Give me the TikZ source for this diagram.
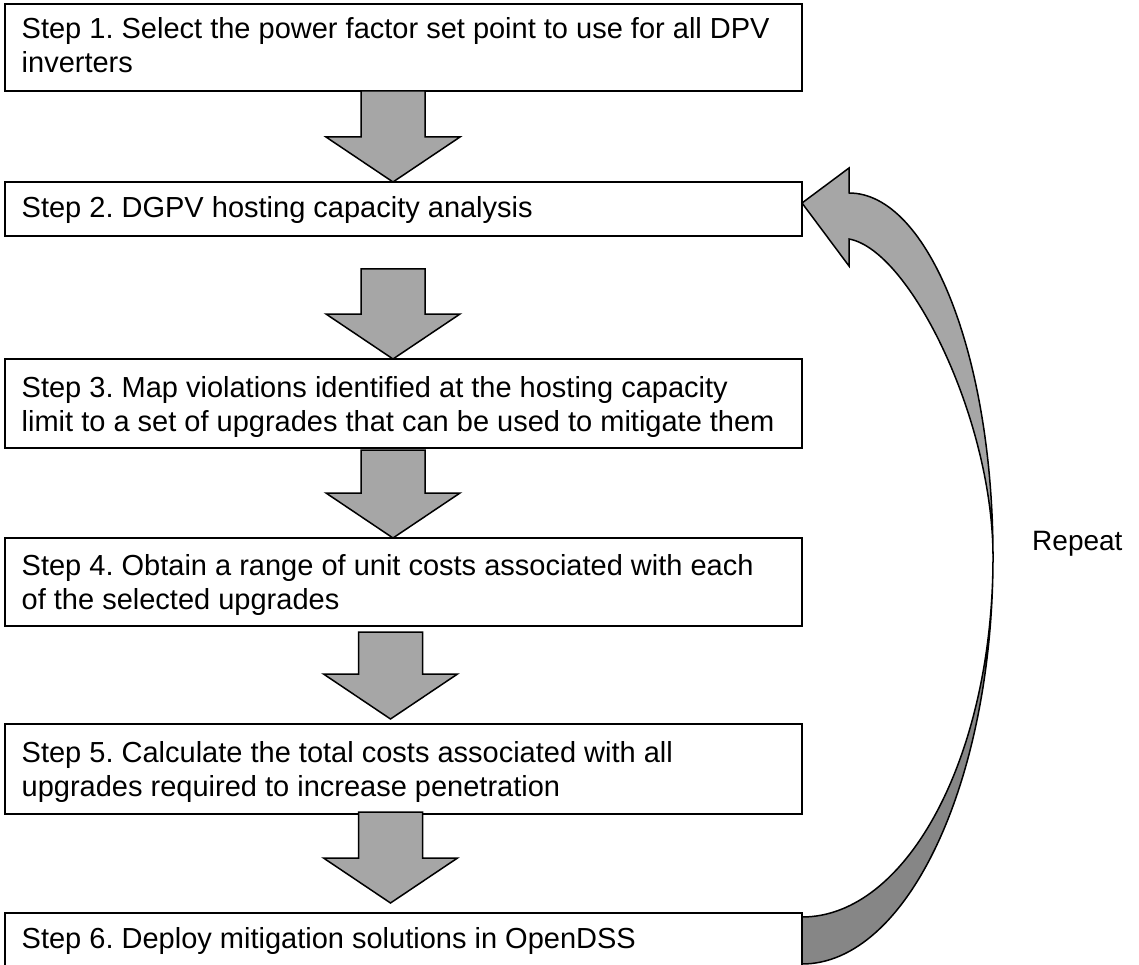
\documentclass[tikz,border=0pt]{standalone}
\usepackage{fontspec}
\setmainfont{Liberation Sans}
\usetikzlibrary{calc}
\frenchspacing

\definecolor{arrowfill}{RGB}{166,166,166}
\definecolor{arrowback}{RGB}{134,134,134}

\tikzset{
  stepbox/.style={draw=black, line width=1.6pt, fill=white, inner sep=0pt,
    minimum width=797pt, rectangle},
  steptext/.style={anchor=base west, align=left, inner sep=0pt,
    font=\fontsize{29}{34}\selectfont},
  blockarrow/.style={draw=black, line width=1.5pt, fill=arrowfill, line join=miter},
  loopfront/.style={draw=black, line width=1.5pt, fill=arrowfill, line join=miter},
  loopback/.style={draw=black, line width=1.5pt, fill=arrowback, line join=round},
}

% down-pointing block arrow: shaft starts at #1, tip at #2
\newcommand\blockdown[2]{%
  \draw[blockarrow] let \p1=(#1), \p2=(#2) in
    (\x1-32pt,\y1) -- (\x1+32pt,\y1) -- (\x1+32pt,\y2+45pt) -- (\x1+67pt,\y2+45pt)
    -- (\x1,\y2) -- (\x1-67pt,\y2+45pt) -- (\x1-32pt,\y2+45pt) -- cycle;}

\begin{document}
\begin{tikzpicture}[x=1pt,y=1pt]
\useasboundingbox (0,0) rectangle (1139,-965);
\clip (0,0) rectangle (1139,-965);

% step boxes
\node[stepbox, minimum height=87pt] (s1) at (403.5,-47.5) {};
\node[stepbox, minimum height=54pt] (s2) at (403.5,-209) {};
\node[stepbox, minimum height=89pt] (s3) at (403.5,-403.5) {};
\node[stepbox, minimum height=88pt] (s4) at (403.5,-582) {};
\node[stepbox, minimum height=90pt] (s5) at (403.5,-769) {};
\node[stepbox, minimum height=64pt] (s6) at (403.5,-945) {};

% step texts (base anchor sits on the last line)
\node[steptext] (t1) at (21.5,-73) {Step 1. Select the power factor set point to use for all DPV\\inverters};
\node[steptext] (t2) at (21.5,-218) {Step 2. DGPV hosting capacity analysis};
\node[steptext] (t3) at (21.5,-431) {Step 3. Map violations identified at the hosting capacity\\limit to a set of upgrades that can be used to mitigate them};
\node[steptext] (t4) at (21.5,-609) {Step 4. Obtain a range of unit costs associated with each\\of the selected upgrades};
\node[steptext] (t5) at (21.5,-796) {Step 5. Calculate the total costs associated with all\\upgrades required to increase penetration};
\node[steptext] (t6) at (21.5,-948) {Step 6. Deploy mitigation solutions in OpenDSS};

% block arrows between the steps
\coordinate (a1top) at (393,-91);    \coordinate (a1tip) at (393,-182);
\coordinate (a2top) at (393,-269);   \coordinate (a2tip) at (393,-359);
\coordinate (a3top) at (393,-450);   \coordinate (a3tip) at (393,-538);
\coordinate (a4top) at (390.5,-632); \coordinate (a4tip) at (390.5,-719);
\coordinate (a5top) at (390.5,-812); \coordinate (a5tip) at (390.5,-903);
\blockdown{a1top}{a1tip}
\blockdown{a2top}{a2tip}
\blockdown{a3top}{a3tip}
\blockdown{a4top}{a4tip}
\blockdown{a5top}{a5tip}

% curved return arrow from step 6 back to step 2
\coordinate (twist) at (993,-557);
\draw[loopback] (802,-917) .. controls (907,-917) and (993,-756) .. (twist)
  .. controls (993,-782) and (907,-964) .. (802,-964) -- cycle;
\draw[loopfront] (twist) .. controls (993,-356) and (928.5,-193) .. (849,-193)
  -- (849,-168) -- (802,-203) -- (849,-266) -- (849,-239)
  .. controls (910,-250) and (993,-420) .. (twist) -- cycle;

\node[anchor=base west, inner sep=0pt, font=\fontsize{28}{34}\selectfont] (rep) at (1032,-550) {Repeat};
\end{tikzpicture}
\end{document}
